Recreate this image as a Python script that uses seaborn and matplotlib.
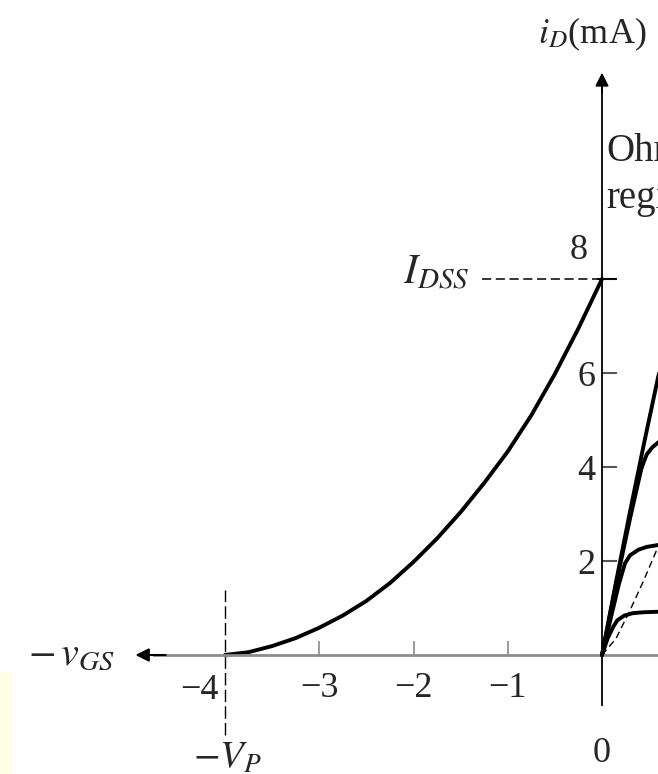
import matplotlib
matplotlib.use("Agg")
import matplotlib.pyplot as plt
import seaborn as sns
from matplotlib.patches import Rectangle

# Transfer characteristic (left): v_GS in volts, i_D in mA
v_gs = [-4.0, -3.75, -3.5, -3.25, -3.0, -2.75, -2.5, -2.25, -2.0,
        -1.75, -1.5, -1.25, -1.0, -0.75, -0.5, -0.25, 0.0]
i_d_transfer = [0.0, 0.06, 0.19, 0.36, 0.58, 0.84, 1.15, 1.53, 1.98,
                2.48, 3.04, 3.66, 4.33, 5.1, 5.98, 6.95, 8.0]

# Drain characteristics (right, clipped at the figure edge): v_DS in volts
vds_0 = [0.0, 0.5, 1.0, 1.5, 2.0, 2.2]
id_0 = [0.0, 1.55, 3.05, 4.5, 5.9, 6.4]
vds_1 = [0.0, 0.5, 1.0, 1.4, 1.5, 1.6, 1.8, 2.0, 2.2]
id_1 = [0.0, 1.5, 2.9, 3.95, 4.12, 4.27, 4.42, 4.52, 4.58]
vds_2 = [0.0, 0.3, 0.6, 0.82, 1.0, 1.3, 1.6, 2.0, 2.2]
id_2 = [0.0, 0.75, 1.5, 1.95, 2.12, 2.24, 2.3, 2.34, 2.36]
vds_3 = [0.0, 0.2, 0.4, 0.55, 0.8, 1.1, 1.5, 2.0, 2.2]
id_3 = [0.0, 0.35, 0.6, 0.74, 0.84, 0.89, 0.91, 0.92, 0.92]
vds_edge = [0.0, 0.5, 1.0, 1.5, 2.0, 2.2]
id_edge = [0.0, 0.35, 0.95, 1.6, 2.3, 2.6]

I_DSS = 8.0
V_P = 4.0
y_ticks = [2, 4, 6, 8]
y_tick_labels = ['2', '4', '6', '']
x_ticks = [-3, -2, -1]
x_tick_labels = ['\u22123', '\u22122', '\u22121']

sns.set_theme(style='white')
plt.rcParams['font.family'] = ['Liberation Serif', 'DejaVu Serif']
plt.rcParams['mathtext.fontset'] = 'stix'

fig = plt.figure(figsize=(6.58, 7.74), dpi=100)
fig.patch.set_facecolor('white')

# pale yellow scan patch at lower left
fig.patches.append(Rectangle((0, 0), 12 / 658, 102 / 774, transform=fig.transFigure,
                             facecolor='#fffde4', edgecolor='none', zorder=0))

ax = fig.add_axes([0, 0, 1, 1])
ax.patch.set_visible(False)

sns.lineplot(x=v_gs, y=i_d_transfer, ax=ax, color='black', linewidth=2.8,
             sort=False, estimator=None)

# guide lines
ax.hlines(I_DSS, -1.27, 0.0, colors='black', linewidth=1.1, linestyles=(0, (6, 3)))
ax.vlines(-V_P, -1.7, 1.38, colors='black', linewidth=1.0, linestyles=(0, (9, 3)))

ax.set_xlim(-602 / 94.25, 56 / 94.25)
ax.set_ylim(-119 / 47, 655 / 47)

# axes through the origin
for s in ['top', 'right']:
    ax.spines[s].set_visible(False)
ax.spines['left'].set_position(('data', 0))
ax.spines['bottom'].set_position(('data', 0))
ax.spines['left'].set_bounds(-1.06, 12.2)
ax.spines['bottom'].set_bounds(-4.75, 0.6)
ax.spines['left'].set_color('black')
ax.spines['left'].set_linewidth(1.3)
ax.spines['bottom'].set_color('#8c8c8c')
ax.spines['bottom'].set_linewidth(2.0)

ax.set_yticks(y_ticks)
ax.set_yticklabels(y_tick_labels)
ax.set_xticks(x_ticks)
ax.set_xticklabels(x_tick_labels)
ax.tick_params(axis='y', direction='in', length=11, width=1.5, color='#555555',
               labelsize=26, pad=5, left=True)
ax.tick_params(axis='x', direction='in', length=10, width=1.2, color='#8c8c8c',
               labelsize=26, pad=12, bottom=True)
ax.grid(False)

# tick at 8 crosses the axis
ax.hlines(I_DSS, -0.05, 0.16, colors='black', linewidth=1.3)

# arrow heads
ax.annotate('', xy=(0, 12.45), xytext=(0, 11.9),
            arrowprops=dict(arrowstyle='-|>', color='black', lw=1.3, mutation_scale=20))
ax.annotate('', xy=(-4.98, 0), xytext=(-4.6, 0),
            arrowprops=dict(arrowstyle='-|>', color='black', lw=1.5, mutation_scale=20))

# text labels
ax.text(-0.1, 13.2, r'$i_D$(mA)', ha='center', va='center', fontsize=26)
ax.text(0.045, 10.72, 'Ohmic', ha='left', va='center', fontsize=28)
ax.text(0.045, 9.72, 'region', ha='left', va='center', fontsize=28)
ax.text(-0.245, 8.6, '8', ha='center', va='center', fontsize=26)
ax.text(-1.40, 8.12, r'$I_{DSS}$', ha='right', va='center', fontsize=30)
ax.text(-5.17, 0.0, r'$-\,v_{GS}$', ha='right', va='center', fontsize=29)
ax.text(-4.27, -0.75, '\u22124', ha='center', va='center', fontsize=26)
ax.text(-3.97, -2.2, r'$-V_P$', ha='center', va='center', fontsize=28)
ax.text(0.0, -2.1, '0', ha='center', va='center', fontsize=26)

# drain characteristics on an overlaid axes with its own v_DS scale
ax2 = fig.add_axes([0, 0, 1, 1], sharey=ax)
ax2.patch.set_visible(False)
for vx, iy in [(vds_0, id_0), (vds_1, id_1), (vds_2, id_2), (vds_3, id_3)]:
    sns.lineplot(x=vx, y=iy, ax=ax2, color='black', linewidth=2.8,
                 sort=False, estimator=None)
sns.lineplot(x=vds_edge, y=id_edge, ax=ax2, color='black', linewidth=1.0,
             sort=False, estimator=None, linestyle=(0, (5, 3)))
ax2.set_xlim(-602 / 28, 56 / 28)
ax2.set_ylim(-119 / 47, 655 / 47)
ax2.axis('off')

fig.savefig('out.png', dpi=100)
